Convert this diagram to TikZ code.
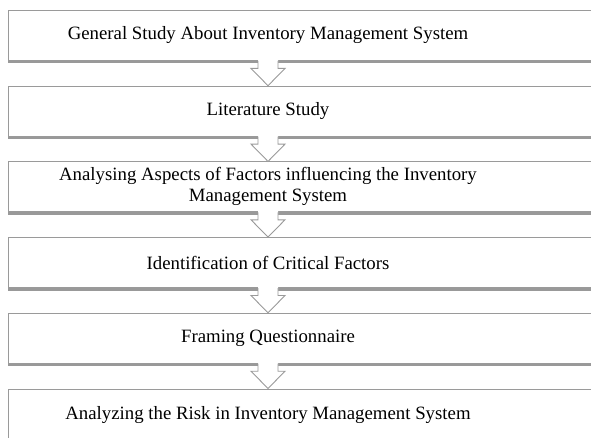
\documentclass[tikz,border=0pt]{standalone}
\usepackage{fontspec}
\setmainfont{Liberation Serif}
\usetikzlibrary{shadows,calc}
\definecolor{boxgray}{HTML}{9A9A9A}
\tikzset{
  box/.style={draw=boxgray, fill=white, line width=0.9pt, minimum width=590pt,
    minimum height=50pt, inner sep=0pt, anchor=north west,
    drop shadow={shadow xshift=-0.8pt, shadow yshift=-3pt, fill=black, opacity=0.4}},
  lbl/.style={font=\fontsize{18.8}{21}\selectfont, align=center, inner sep=0pt},
  arrowline/.style={draw=boxgray, line width=0.9pt, line join=miter},
}
\begin{document}
\begin{tikzpicture}[x=1pt,y=-1pt]
\useasboundingbox (0,0) rectangle (591,437);
\clip (0,0) rectangle (591,437);
\node[box] (b1) at (8,10) {};
\node[box] (b2) at (8,85.7) {};
\node[box] (b3) at (8,161.4) {};
\node[box] (b4) at (8,237.1) {};
\node[box] (b5) at (8,312.8) {};
\node[box] (b6) at (8,388.5) {};
\node[lbl] (t1) at ([xshift=260pt]b1.west) {General Study About Inventory Management  System};
\node[lbl] (t2) at ([xshift=260pt]b2.west) {Literature  Study};
\node[lbl] (t3) at ([xshift=260pt]b3.west) {Analysing  Aspects of Factors influencing  the Inventory\\Management  System};
\node[lbl] (t4) at ([xshift=260pt]b4.west) {Identification  of Critical  Factors};
\node[lbl] (t5) at ([xshift=260pt]b5.west) {Framing  Questionnaire};
\node[lbl] (t6) at ([xshift=260pt,yshift=-1pt]b6.west) {Analyzing  the Risk in Inventory  Management  System};
\foreach \a/\b in {b1/b2,b2/b3,b3/b4,b4/b5,b5/b6}{
  \coordinate (s) at ([xshift=260pt]\a.south west);
  \coordinate (e) at ([xshift=260pt]\b.north west);
  \fill[white] ($(s)+(-10,-1.5)$) -- ($(s)+(-10,7.5)$) -- ($(s)+(-17,7.5)$) -- (e)
     -- ($(s)+(17,7.5)$) -- ($(s)+(10,7.5)$) -- ($(s)+(10,-1.5)$) -- cycle;
  \draw[arrowline] ($(s)+(-10,0)$) -- ($(s)+(-10,7.5)$) -- ($(s)+(-17,7.5)$) -- (e)
     -- ($(s)+(17,7.5)$) -- ($(s)+(10,7.5)$) -- ($(s)+(10,0)$);
}
\end{tikzpicture}
\end{document}
